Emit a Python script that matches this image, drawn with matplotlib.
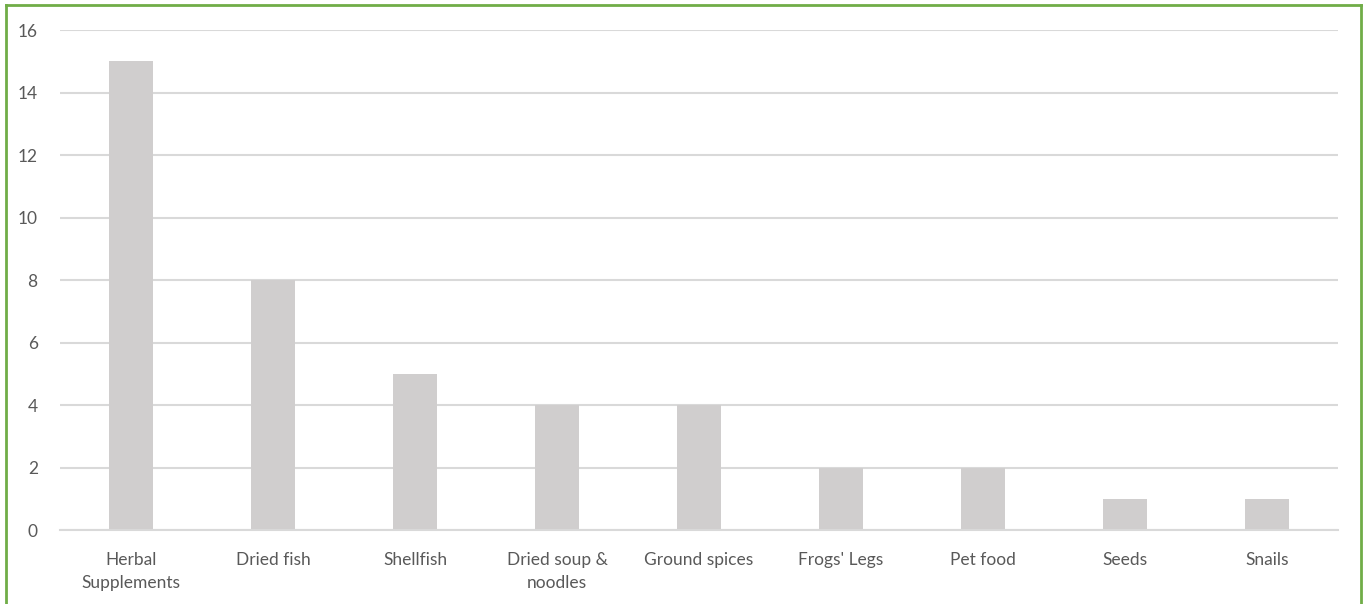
import matplotlib.pyplot as plt
from matplotlib.lines import Line2D

categories = ["Herbal\nSupplements", "Dried fish", "Shellfish", "Dried soup &\nnoodles",
              "Ground spices", "Frogs' Legs", "Pet food", "Seeds", "Snails"]
counts = [15, 8, 5, 4, 4, 2, 2, 1, 1]
y_ticks = [0, 2, 4, 6, 8, 10, 12, 14, 16]

plt.rcParams['font.family'] = ['Lato', 'DejaVu Sans']

fig = plt.figure(figsize=(13.63, 6.04), dpi=100)
ax = fig.add_axes([0.044, 0.1225, 0.9377, 0.8278])

x = range(len(categories))
ax.bar(x, counts, width=0.31, color="#D0CECE", zorder=2)

ax.set_xlim(-0.5, len(categories) - 0.5)
ax.set_ylim(0, 16)
ax.set_yticks(y_ticks)
ax.set_xticks(list(x))
ax.set_xticklabels(categories, fontsize=12.5, color="#595959", linespacing=1.55)
ax.tick_params(axis="y", labelsize=12.5, labelcolor="#595959", length=0, pad=16)
ax.tick_params(axis="x", length=0, pad=16)
ax.grid(axis="y", color="#D9D9D9", linewidth=1.5, zorder=0)
for side in ["top", "right", "left"]:
    ax.spines[side].set_visible(False)
ax.spines["bottom"].set_color("#D9D9D9")
ax.spines["bottom"].set_linewidth(1.5)

# green frame around the chart area
green = "#70AD47"
fig.add_artist(Line2D([0.0044, 0.0044], [0, 0.9917], color=green, lw=2, transform=fig.transFigure))
fig.add_artist(Line2D([0.0044, 0.9985], [0.9917, 0.9917], color=green, lw=2, transform=fig.transFigure))
fig.add_artist(Line2D([0.9985, 0.9985], [0, 0.9917], color=green, lw=2, transform=fig.transFigure))

fig.savefig("out.png", dpi=100)
